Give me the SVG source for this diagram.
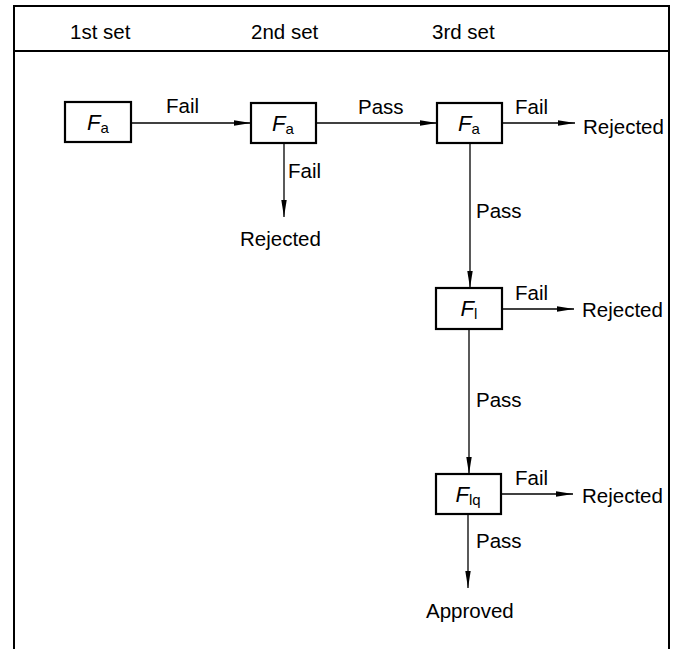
<svg xmlns="http://www.w3.org/2000/svg" width="676" height="649" viewBox="0 0 676 649">
<style>
text{font-family:"Liberation Sans",Arial,sans-serif;font-size:20.5px;fill:#000}
.box{fill:#fff;stroke:#000;stroke-width:2.2}
.f{font-style:italic;font-size:22px}
.sub{font-style:normal;font-size:15px}
.frame{fill:none;stroke:#000;stroke-width:2}
.conn line{stroke:#000;stroke-width:1.3;marker-end:url(#ah)}
</style>
<defs>
<marker id="ah" viewBox="0 0 17 7" refX="17" refY="3.5" markerWidth="17" markerHeight="7" markerUnits="userSpaceOnUse" orient="auto">
<path d="M0,0.8 L17,3.5 L0,6.2 Z" fill="#000"/>
</marker>
</defs>
<rect width="676" height="649" fill="#fff"/>
<g id="frame">
<path class="frame" d="M14,649 V6 H669 V649"/>
<line x1="14" y1="51" x2="669" y2="51" stroke="#000" stroke-width="2"/>
<text x="70" y="39">1st set</text>
<text x="251" y="39">2nd set</text>
<text x="432" y="39">3rd set</text>
</g>
<g id="connectors" class="conn">
<line x1="131" y1="123" x2="251" y2="123"/>
<line x1="284" y1="143" x2="284" y2="217"/>
<line x1="316" y1="123" x2="437" y2="123"/>
<line x1="502" y1="123" x2="575" y2="123"/>
<line x1="470" y1="143" x2="470" y2="288"/>
<line x1="502" y1="309" x2="574" y2="309"/>
<line x1="469" y1="329" x2="469" y2="474"/>
<line x1="501" y1="494" x2="573" y2="494"/>
<line x1="468" y1="514" x2="468" y2="588"/>
</g>
<g id="labels">
<text x="166" y="113">Fail</text>
<text x="288" y="178">Fail</text>
<text x="358" y="114">Pass</text>
<text x="515" y="114">Fail</text>
<text x="476" y="218">Pass</text>
<text x="515" y="300">Fail</text>
<text x="476" y="407">Pass</text>
<text x="515" y="485">Fail</text>
<text x="476" y="548">Pass</text>
</g>
<g id="n1"><rect class="box" x="65" y="102" width="66" height="40"/><text class="f" x="98" y="130" text-anchor="middle">F<tspan class="sub" dy="3">a</tspan></text></g>
<g id="n2"><rect class="box" x="251" y="103" width="65" height="40"/><text class="f" x="283" y="131" text-anchor="middle">F<tspan class="sub" dy="3">a</tspan></text></g>
<g id="n3"><rect class="box" x="437" y="103" width="65" height="40"/><text class="f" x="469" y="131" text-anchor="middle">F<tspan class="sub" dy="3">a</tspan></text></g>
<g id="n4"><rect class="box" x="436" y="288" width="66" height="41"/><text class="f" x="469" y="316" text-anchor="middle">F<tspan class="sub" dy="3">l</tspan></text></g>
<g id="n5"><rect class="box" x="436" y="474" width="65" height="40"/><text class="f" x="468" y="502" text-anchor="middle">F<tspan class="sub" dy="3">lq</tspan></text></g>
<g id="r1"><text x="240" y="246">Rejected</text></g>
<g id="r2"><text x="583" y="134">Rejected</text></g>
<g id="r3"><text x="582" y="317">Rejected</text></g>
<g id="r4"><text x="582" y="503">Rejected</text></g>
<g id="approved"><text x="426" y="618">Approved</text></g>
</svg>
